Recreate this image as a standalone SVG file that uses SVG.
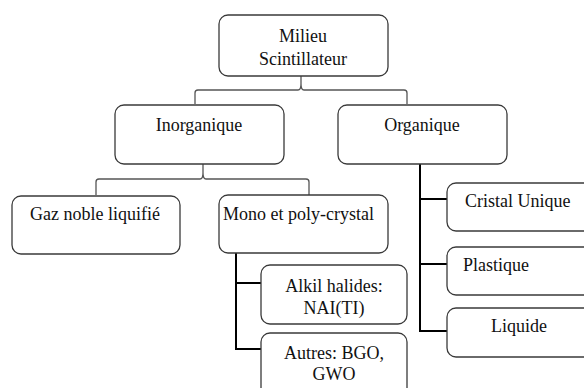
<svg xmlns="http://www.w3.org/2000/svg" width="584" height="388" viewBox="0 0 584 388">
  <style>
    .box { fill: #ffffff; stroke: #3a3a3a; stroke-width: 1.3; }
    .lbl { font-family: "Liberation Serif", "Times New Roman", serif; font-size: 18px; fill: #111111; }
    .mid { text-anchor: middle; }
    .brace { fill: none; stroke: #555555; stroke-width: 1.3; }
    .tree { fill: none; stroke: #000000; stroke-width: 2; }
  </style>
  <rect width="584" height="388" fill="#ffffff"/>

  <!-- connectors -->
  <g id="connectors">
    <path class="brace" d="M301,76 V84 M195,104 V93 Q195,90 198,90 H298 Q301,90 301,84 Q301,90 304,90 H404 Q407,90 407,93 V104"/>
    <path class="brace" d="M203,164 V173 M96,195 V182 Q96,179 99,179 H200 Q203,179 203,173 Q203,179 206,179 H306 Q309,179 309,182 V195"/>
    <path class="tree" d="M236,253 V349 H261 M236,283 H261"/>
    <path class="tree" d="M420,164 V331 H447 M420,199 H447 M420,264 H447"/>
  </g>

  <g id="milieu">
    <rect class="box" x="219" y="15" width="169" height="61" rx="9"/>
    <text class="lbl mid" x="303" y="42">Milieu</text>
    <text class="lbl mid" x="303" y="65">Scintillateur</text>
  </g>

  <g id="inorganique">
    <rect class="box" x="115" y="105" width="169" height="59" rx="9"/>
    <text class="lbl mid" x="199" y="131">Inorganique</text>
  </g>

  <g id="organique">
    <rect class="box" x="338" y="105" width="169" height="59" rx="9"/>
    <text class="lbl mid" x="422" y="131">Organique</text>
  </g>

  <g id="gaz-noble">
    <rect class="box" x="12" y="196" width="168" height="58" rx="9"/>
    <text class="lbl mid" x="95" y="220">Gaz noble liquifié</text>
  </g>

  <g id="mono-poly">
    <rect class="box" x="219" y="195" width="169" height="58" rx="9"/>
    <text class="lbl" x="223" y="220">Mono et poly-crystal</text>
  </g>

  <g id="alkil">
    <rect class="box" x="261" y="265" width="146" height="59" rx="9"/>
    <text class="lbl mid" x="334" y="292">Alkil halides:</text>
    <text class="lbl mid" x="334" y="314">NAI(TI)</text>
  </g>

  <g id="autres">
    <rect class="box" x="261" y="333" width="146" height="70" rx="9"/>
    <text class="lbl mid" x="334" y="359">Autres: BGO,</text>
    <text class="lbl mid" x="334" y="380">GWO</text>
  </g>

  <g id="cristal">
    <rect class="box" x="447" y="183" width="150" height="48" rx="9"/>
    <text class="lbl" x="465" y="207">Cristal Unique</text>
  </g>

  <g id="plastique">
    <rect class="box" x="447" y="247" width="150" height="48" rx="9"/>
    <text class="lbl" x="463" y="271">Plastique</text>
  </g>

  <g id="liquide">
    <rect class="box" x="447" y="308" width="150" height="49" rx="9"/>
    <text class="lbl" x="491" y="332">Liquide</text>
  </g>
</svg>
